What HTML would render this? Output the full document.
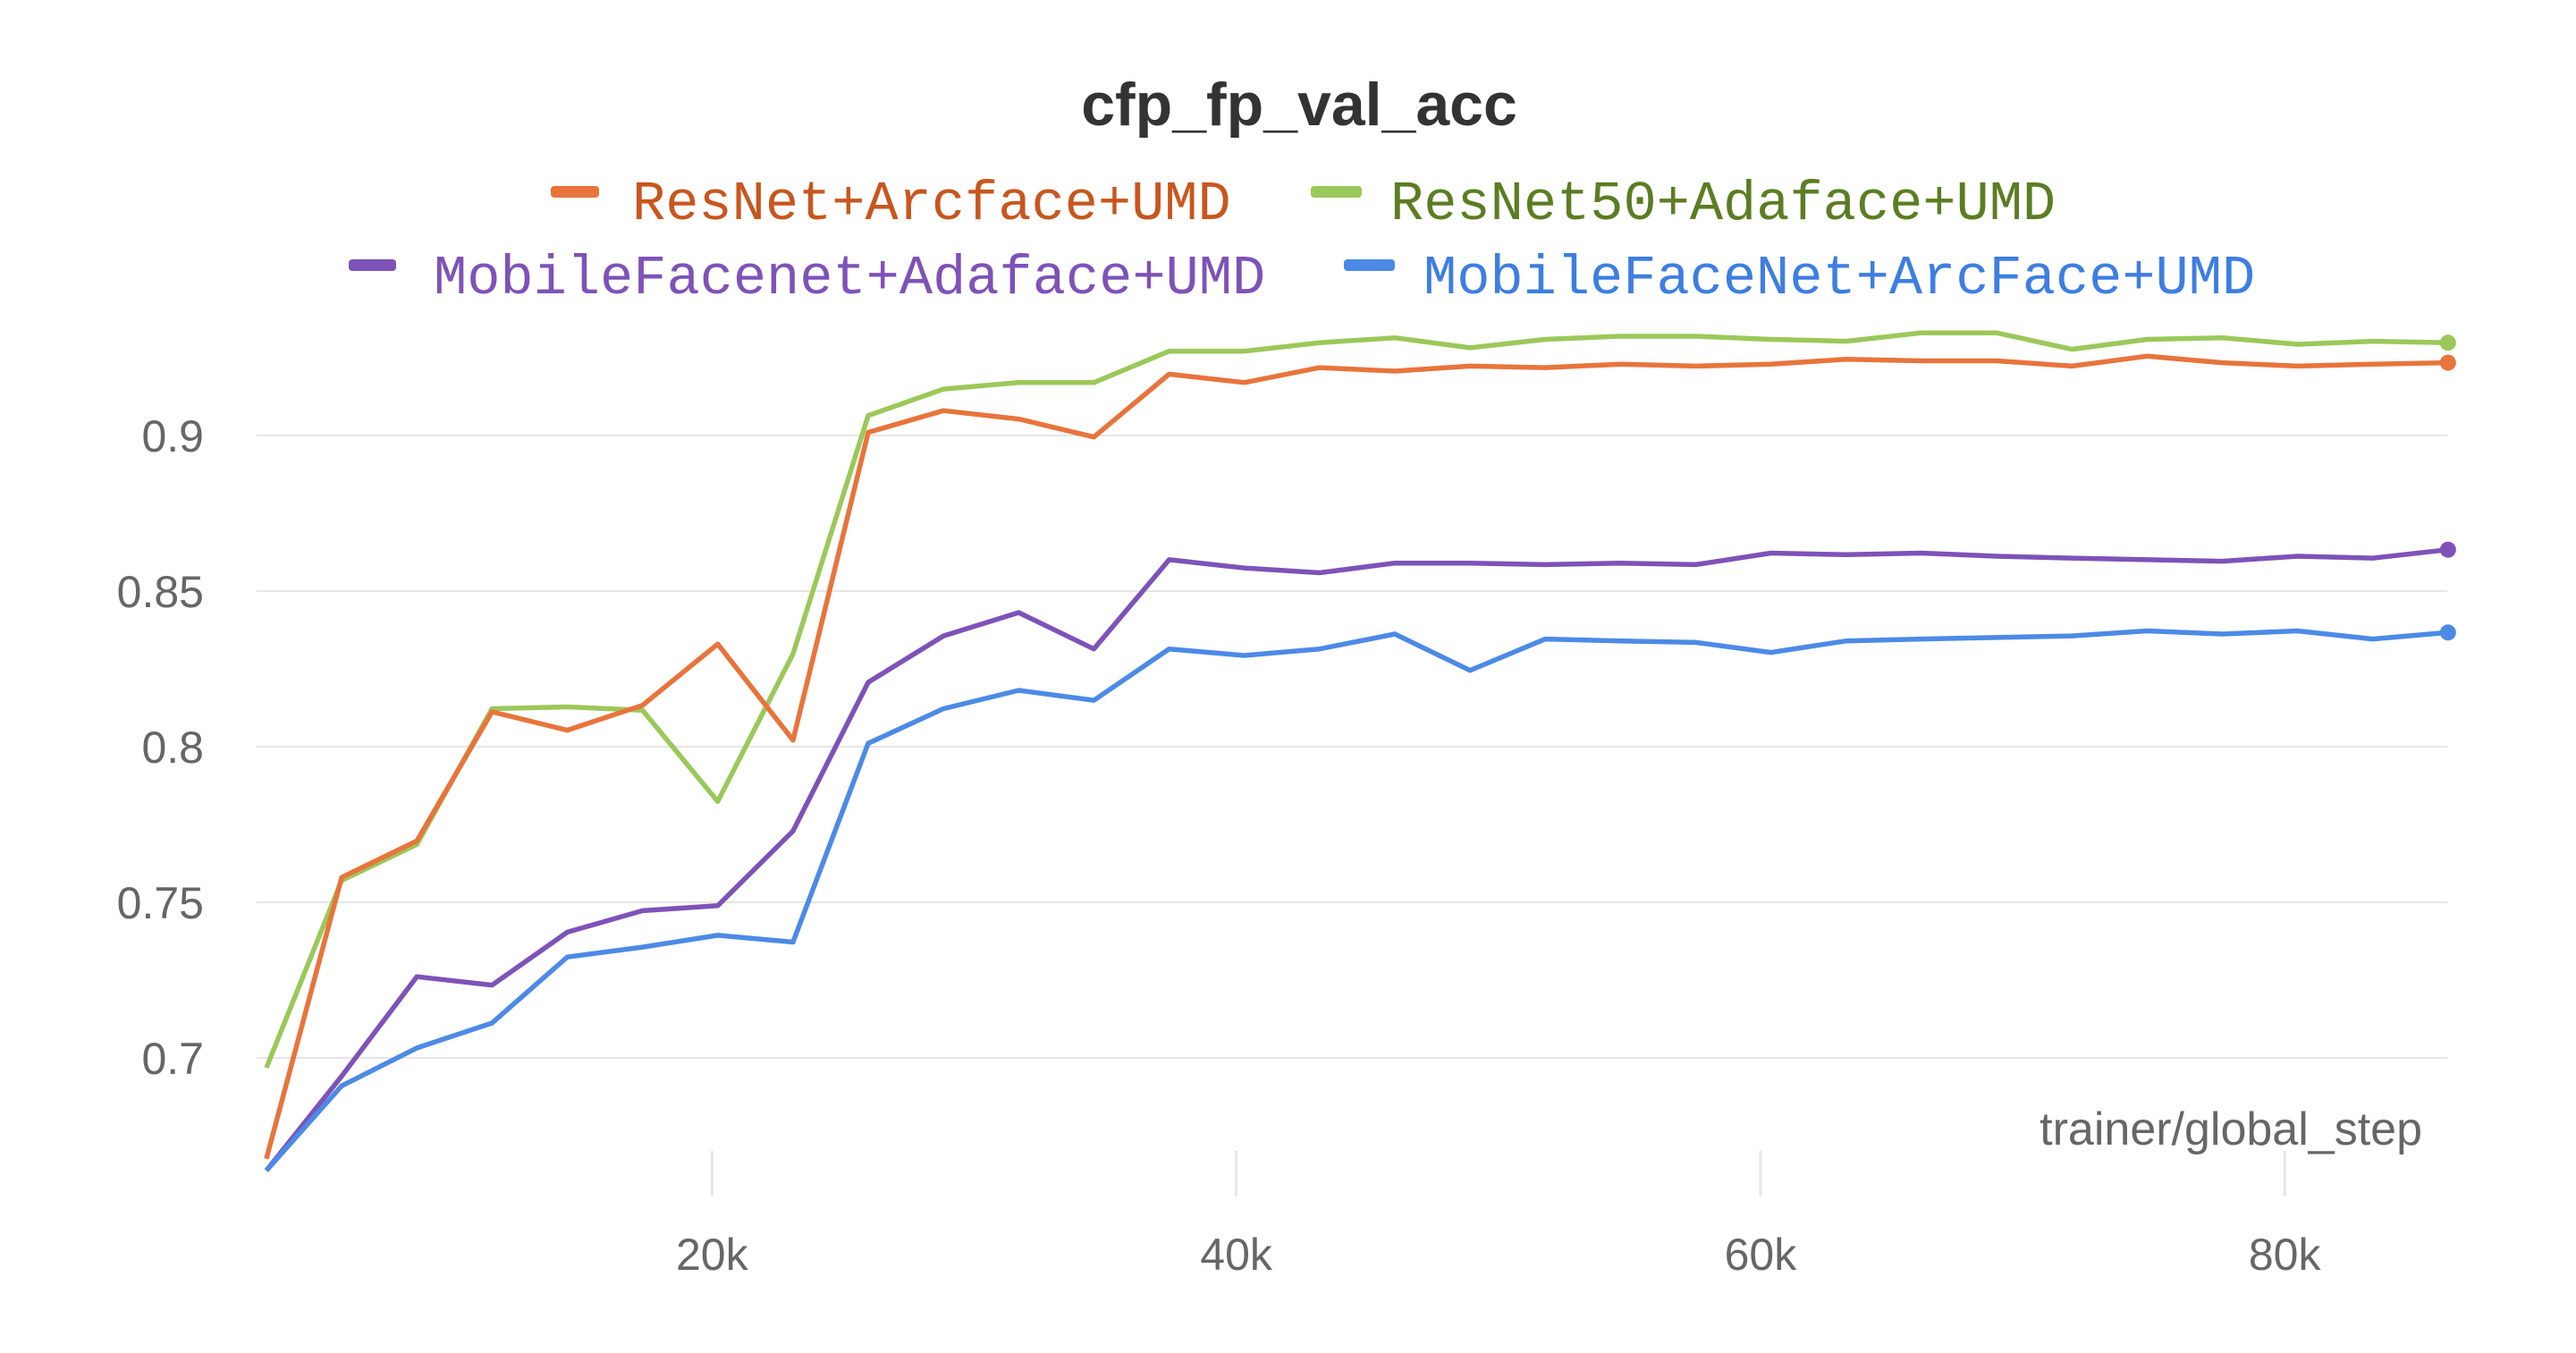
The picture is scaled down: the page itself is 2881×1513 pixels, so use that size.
<!DOCTYPE html>
<html><head><meta charset="utf-8"><style>
html,body{margin:0;padding:0;background:#fff;}
svg{display:block;}
</style></head><body>
<svg id="chart" width="2881" height="1513" viewBox="0 0 2881 1513" xmlns="http://www.w3.org/2000/svg">
<text x="1453" y="140" text-anchor="middle" font-family="Liberation Sans, sans-serif" font-weight="bold" font-size="68" fill="#333">cfp_fp_val_acc</text>
<g font-family="Liberation Mono, monospace" font-size="62">
 <g><rect x="616" y="208" width="54" height="13" rx="4" fill="#e8743b"/><text x="707" y="245" fill="#c8561e">ResNet+Arcface+UMD</text></g>
 <g><rect x="1466" y="208" width="57" height="13" rx="4" fill="#9bc85a"/><text x="1555" y="245" fill="#5b7d22">ResNet50+Adaface+UMD</text></g>
 <g><rect x="390" y="290" width="53" height="13" rx="4" fill="#7e52b8"/><text x="485" y="328" fill="#7e52b8">MobileFacenet+Adaface+UMD</text></g>
 <g><rect x="1503" y="290" width="57" height="13" rx="4" fill="#4c8ae6"/><text x="1592" y="328" fill="#3d7ee2">MobileFaceNet+ArcFace+UMD</text></g>
</g>
<g id="grid"></g>
<g id="axes"></g>
<g id="series"></g>
<text x="2709" y="1280" text-anchor="end" font-family="Liberation Sans, sans-serif" font-size="52" fill="#666">trainer/global_step</text>
</svg>
<script>
const yTicks=[0.7,0.75,0.8,0.85,0.9];
const yTickLabels=["0.7","0.75","0.8","0.85","0.9"];
const xTicks=[20000,40000,60000,80000];
const xTickLabels=["20k","40k","60k","80k"];
const stepStart=3000, stepSize=2870;
const resnetArc=[0.6676,0.758,0.7697,0.8112,0.8053,0.8133,0.833,0.8021,0.901,0.908,0.9053,0.8995,0.9197,0.917,0.9218,0.9207,0.9223,0.9218,0.9229,0.9223,0.9229,0.9245,0.924,0.924,0.9223,0.9255,0.9234,0.9223,0.9229,0.9234];
const resnetAda=[0.6968,0.757,0.7686,0.8122,0.8128,0.8117,0.7824,0.8298,0.9064,0.9149,0.917,0.917,0.9271,0.9271,0.9298,0.9314,0.9282,0.9309,0.9319,0.9319,0.9309,0.9303,0.933,0.933,0.9277,0.9309,0.9314,0.9293,0.9303,0.9298];
const mobileAda=[0.6638,0.6941,0.7261,0.7234,0.7404,0.7473,0.7489,0.7729,0.8207,0.8356,0.8431,0.8314,0.8601,0.8574,0.8559,0.859,0.859,0.8585,0.859,0.8585,0.8622,0.8617,0.8622,0.8612,0.8606,0.8601,0.8596,0.8612,0.8606,0.8633];
const mobileArc=[0.6638,0.691,0.7032,0.7112,0.7324,0.7356,0.7394,0.7372,0.8011,0.8122,0.8181,0.8149,0.8314,0.8293,0.8314,0.8362,0.8245,0.8346,0.834,0.8335,0.8303,0.834,0.8346,0.8351,0.8356,0.8372,0.8362,0.8372,0.8346,0.8367];
const NS="http://www.w3.org/2000/svg";
function xs(v){return 210+(v/20000)*586.3;}
function ys(v){return 487+(0.9-v)/0.2*696;}
function mk(t,a,parent){const e=document.createElementNS(NS,t);for(const k in a)e.setAttribute(k,a[k]);parent.appendChild(e);return e;}
const grid=document.getElementById('grid'),axes=document.getElementById('axes'),ser=document.getElementById('series');
yTicks.forEach((v,i)=>{
 const l=mk('line',{x1:287,x2:2737,y1:ys(v),y2:ys(v),stroke:'#e6e6e6','stroke-width':2},grid);
 
 
 const t=mk('text',{x:228,y:ys(v)+18,'text-anchor':'end','font-family':'Liberation Sans, sans-serif','font-size':50,fill:'#666'},axes);
 t.textContent=yTickLabels[i];
 
 
});
xTicks.forEach((v,i)=>{
 const l=mk('line',{x1:xs(v),x2:xs(v),y1:1287,y2:1337,stroke:'#e6e6e6','stroke-width':3},grid);
 
 
 const t=mk('text',{x:xs(v),y:1420,'text-anchor':'middle','font-family':'Liberation Sans, sans-serif','font-size':50,fill:'#666'},axes);
 t.textContent=xTickLabels[i];
 
 
});
const series=[["series-resnet50-adaface",resnetAda,"#9bc85a"],["series-resnet-arcface",resnetArc,"#e8743b"],["series-mobilefacenet-adaface",mobileAda,"#7e52b8"],["series-mobilefacenet-arcface",mobileArc,"#4c8ae6"]];
series.forEach(s=>{
 const pts=s[1].map((v,i)=>xs(stepStart+i*stepSize).toFixed(1)+','+ys(v).toFixed(1)).join(' ');
 const p=mk('polyline',{points:pts,fill:'none',stroke:s[2],'stroke-width':5.5,'stroke-linejoin':'round'},ser);
 
 
 const n=s[1].length-1;
 const c=mk('circle',{cx:xs(stepStart+n*stepSize),cy:ys(s[1][n]),r:9,fill:s[2]},ser);
 
 
});
</script>
</body></html>
